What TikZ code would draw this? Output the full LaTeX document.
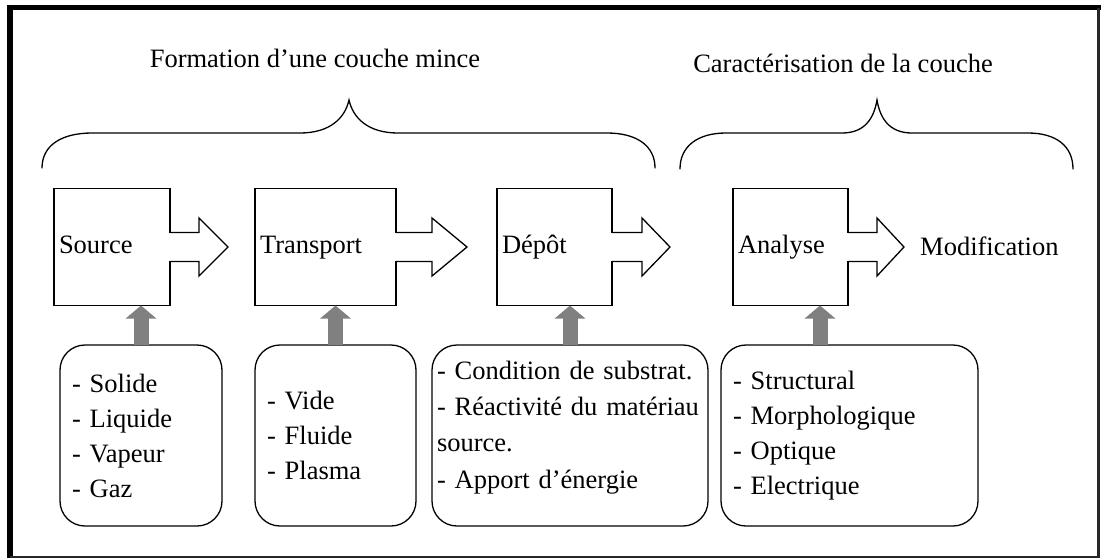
\documentclass[tikz,border=0pt]{standalone}
\usepackage{fontspec}
\setmainfont{Liberation Serif}
\usetikzlibrary{arrows.meta,calc}
\definecolor{feedgray}{RGB}{128,128,128}
\begin{document}
\begin{tikzpicture}[x=1pt,y=-1pt,
  every node/.style={font=\fontsize{26.5}{35}\selectfont},
  stage/.style={draw, line width=1.3pt, outer sep=0pt, minimum height=117pt,
    inner xsep=5pt, inner ysep=0pt, text height=18pt, text depth=6pt, align=left},
  listbox/.style={draw, line width=1.3pt, outer sep=0pt, rounded corners=25pt,
    minimum height=181pt, inner ysep=0pt, align=left},
  feed/.style={line width=15pt, draw=feedgray, -{Triangle[length=13pt,width=30pt]}},
  brace/.style={line width=1.3pt, line cap=round},
  flowarrow/.style={line width=1.3pt, line join=miter}]
\useasboundingbox (0,0) rectangle (1101,558);

% frame
\draw[line width=6pt] (10,558) -- (10,5);
\draw[line width=5pt] (7,7.5) -- (1101,7.5);
\draw[line width=2.5pt, black!85] (1098.6,7.5) -- (1098.6,556.8) -- (10,556.8);

% headings
\node[anchor=base] (t1) at (315,67) {Formation d’une couche mince};
\node[anchor=base] (t2) at (843,72.7) {Caractérisation de la couche};

% braces
\draw[brace] (42,168) .. controls (42,145) and (62,133) .. (92,133) -- (300,133)
  .. controls (330,133) and (345,118) .. (349,100)
  .. controls (353,118) and (368,133) .. (398,133) -- (607,133)
  .. controls (637,133) and (655,146) .. (655,168);
\draw[brace] (680,169) .. controls (680,146) and (698,133) .. (726,133) -- (842,133)
  .. controls (865,133) and (874,118) .. (877,100)
  .. controls (880,118) and (889,133) .. (912,133) -- (1028,133)
  .. controls (1056,133) and (1073,146) .. (1073,169);

% process stages
\node[stage, text width=106pt] (src) at (112,247) {Source};
\node[stage, text width=131pt] (trn) at (325.5,247) {Transport};
\node[stage, text width=105pt] (dep) at (554.5,247) {Dépôt};
\node[stage, text width=105pt] (ana) at (790.5,247) {Analyse};

% outline arrows leaving each stage
\foreach \b/\s/\h in {src/29/29, trn/36/35, dep/30/28, ana/29/27} {
  \fill[white] ($(\b.east)+(-1,-13.8)$) rectangle ($(\b.east)+(1,13.8)$);
  \draw[flowarrow] ($(\b.east)+(0,-14.5)$) -- ++(\s,0) -- ++(0,-14.5)
    -- ++(\h,29) -- ++(-\h,29) -- ++(0,-14.5) -- ++(-\s,0);
}
\node[anchor=base west, inner sep=0pt] (mod) at (920,255) {Modification};

% parameter lists
\node[listbox, inner xsep=12pt, text width=138pt] (l1) at (141,435.5)
  {- Solide\\- Liquide\\- Vapeur\\- Gaz};
\node[listbox, inner xsep=12pt, text width=137pt] (l2) at (335.5,435.5)
  {- Vide\\- Fluide\\- Plasma};
\node[listbox, inner xsep=5pt, text width=266pt,
  font=\fontsize{26.5}{36.3}\selectfont] (l3) at (570,435.5)
  {- Condition de substrat.\\- Réactivité du matériau\\source.\\- Apport d’énergie\rule[-22pt]{0pt}{22pt}};
\node[listbox, inner xsep=12pt, text width=233pt] (l4) at (849.5,435.5)
  {- Structural\\- Morphologique\\- Optique\\- Electrique};

% inputs feeding each stage
\draw[feed] (l1.north) -- (l1.north |- src.south);
\draw[feed] (l2.north) -- (l2.north |- trn.south);
\draw[feed] (l3.north) -- (l3.north |- dep.south);
\draw[feed] ([xshift=-29.5pt]l4.north) -- ([xshift=-29.5pt]l4.north |- ana.south);
\end{tikzpicture}
\end{document}
